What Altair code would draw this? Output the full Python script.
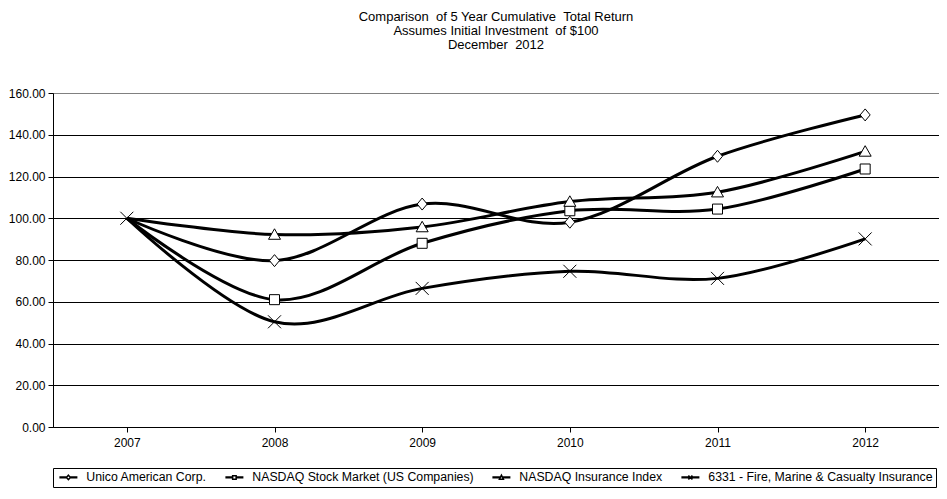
import altair as alt
import pandas as pd

years = ["2007", "2008", "2009", "2010", "2011", "2012"]
series_names = [
    "Unico American Corp.",
    "NASDAQ Stock Market (US Companies)",
    "NASDAQ Insurance Index",
    "6331 - Fire, Marine & Casualty Insurance",
]
unico = [100.0, 79.7, 106.8, 98.1, 129.7, 149.5]
nasdaq = [100.0, 61.0, 88.0, 103.6, 104.4, 123.6]
insurance = [100.0, 92.2, 95.8, 108.0, 112.5, 132.0]
fire = [100.0, 50.4, 66.4, 74.6, 71.2, 90.1]
y_ticks = [0, 20, 40, 60, 80, 100, 120, 140, 160]
title_lines = [
    "Comparison \u00a0of 5 Year Cumulative \u00a0Total Return",
    "Assumes Initial Investment \u00a0of $100",
    "December \u00a02012",
]

rows = []
for s, vals in zip(series_names, [unico, nasdaq, insurance, fire]):
    for yr, v in zip(years, vals):
        rows.append({"series": s, "year": yr, "value": v})
df = pd.DataFrame(rows)

marker_paths = [
    "M0,-1.2L1,0L0,1.2L-1,0Z",
    "M-1,-1L1,-1L1,1L-1,1Z",
    "M0,-1.15L1.2,0.95L-1.2,0.95Z",
    "M-1.3,-1.3L1.3,1.3M-1.3,1.3L1.3,-1.3",
]
stub = "M-0.4,-0.06L{a},-0.06L{a},0.06L-0.4,0.06ZM{b},-0.06L2.9,-0.06L2.9,0.06L{b},0.06Z"
legend_paths = [
    stub.format(a=0.85, b=1.65) + "M1.25,-0.45L1.65,0L1.25,0.45L0.85,0Z",
    stub.format(a=0.9, b=1.6) + "M0.9,-0.35L1.6,-0.35L1.6,0.35L0.9,0.35Z",
    stub.format(a=0.85, b=1.65) + "M1.25,-0.45L1.65,0.38L0.85,0.38Z",
    stub.format(a=0.85, b=1.65) + "M0.85,-0.4L1.65,0.4M0.85,0.4L1.65,-0.4",
]

font = "Liberation Sans"

x_enc = alt.X(
    "year:O",
    scale=alt.Scale(type="point", padding=0.5, domain=years),
    axis=alt.Axis(title=None, labelAngle=0, labelPadding=5, grid=False),
)
y_enc = alt.Y(
    "value:Q",
    scale=alt.Scale(domain=[0, 160], nice=False),
    axis=alt.Axis(
        title=None,
        values=y_ticks,
        format=".2f",
        labelPadding=3,
        grid=True,
        gridColor={"condition": {"test": "datum.value === 160", "value": "#808080"}, "value": "black"},
    ),
)

base = alt.Chart(df)

lines = base.mark_line(interpolate="cardinal", color="black", strokeWidth=3).encode(
    x=x_enc, y=y_enc, detail="series:N"
)

markers = (
    base.transform_filter(
        "datum.year != '2007' || datum.series == '6331 - Fire, Marine & Casualty Insurance'"
    )
    .mark_point(filled=True, fill="white", stroke="black", strokeWidth=1, size=100, opacity=1)
    .encode(
        x=x_enc,
        y=y_enc,
        shape=alt.Shape(
            "series:N",
            scale=alt.Scale(domain=series_names, range=marker_paths),
            legend=None,
        ),
    )
)

legend_layer = (
    base.transform_filter("false")
    .mark_point(filled=True, fill="white", stroke="black", strokeWidth=1, size=324, opacity=1)
    .encode(
        x=x_enc,
        y=y_enc,
        shape=alt.Shape(
            "series:N",
            scale=alt.Scale(domain=series_names, range=legend_paths),
            legend=alt.Legend(
                title=None,
                orient="none",
                legendX=0,
                legendY=375,
                direction="horizontal",
                columns=4,
                strokeColor="black",
                fillColor="white",
                padding=3,
                labelFont=font,
                labelFontSize=12.3,
                labelColor="black",
                labelOffset=18,
                labelLimit=500,
                columnPadding=15,
            ),
        ),
    )
)

chart = (
    alt.layer(lines, markers, legend_layer)
    .resolve_scale(shape="independent")
    .resolve_legend(shape="independent")
    .properties(
        width=886,
        height=334,
        padding={"left": 0, "top": 3, "right": 0, "bottom": 0},
        title=alt.TitleParams(
            text=title_lines,
            font=font,
            fontSize=13,
            fontWeight="normal",
            color="black",
            lineHeight=14,
            anchor="middle",
            offset=35,
        ),
    )
    .configure_view(stroke="#808080", strokeWidth=1)
    .configure_axis(
        labelFont=font,
        labelFontSize=12,
        labelColor="black",
        tickColor="black",
        domainColor="black",
        tickSize=5,
        gridOpacity=1,
    )
)

chart.save("out.html", embed_options={"renderer": "svg", "actions": False})
